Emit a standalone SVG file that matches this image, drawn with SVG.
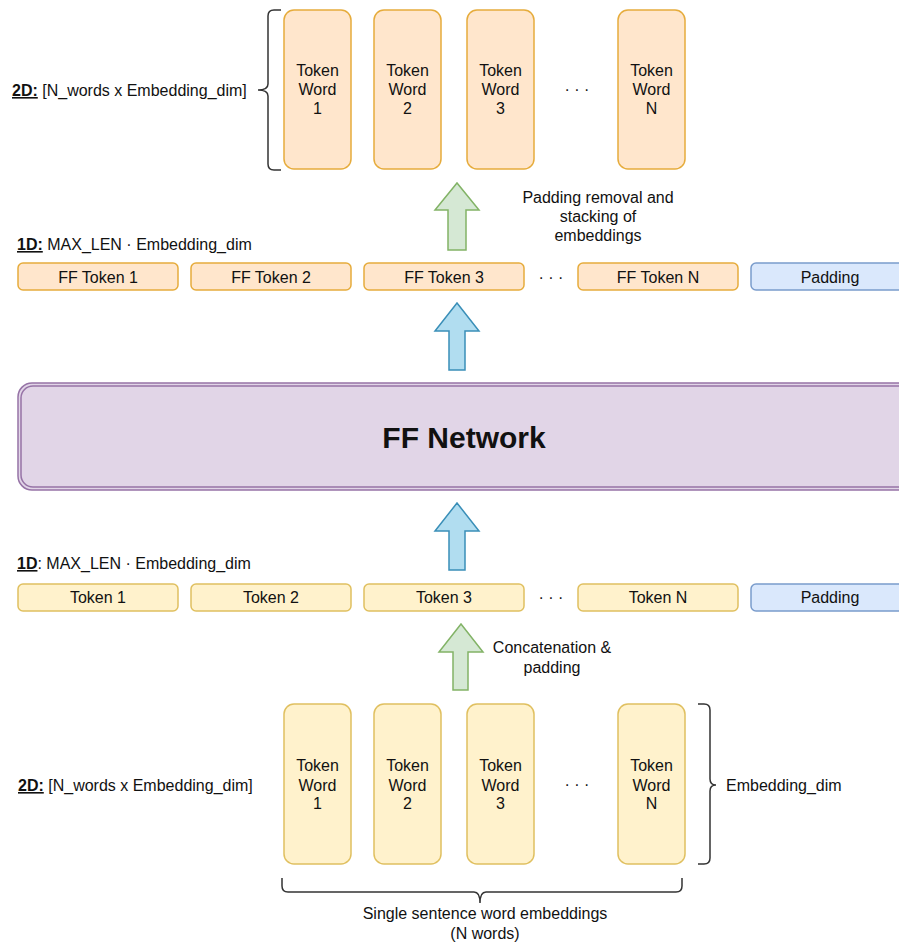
<svg xmlns="http://www.w3.org/2000/svg" width="899" height="944" viewBox="0 0 899 944">
<style>
text{font-family:"Liberation Sans",Arial,sans-serif;font-size:16px;fill:#111;}
.c{text-anchor:middle;}
.tw{fill:#ffe6cc;stroke:#e6ac3c;stroke-width:1.5;}
.bw{fill:#fff2cc;stroke:#e0c060;stroke-width:1.5;}
.pad{fill:#dae8fc;stroke:#7a9ccc;stroke-width:1.5;}
.ga{fill:#d5e8d4;stroke:#82b366;stroke-width:1.5;}
.ba{fill:#b1ddf0;stroke:#3a8fb8;stroke-width:1.5;}
.br{fill:none;stroke:#333;stroke-width:1.5;}
.b{font-weight:bold;text-decoration:underline;}
</style>
<g id="connectors">
<path class="ga" d="M448,250 V210 H435 L457,183 L479,210 H466 V250 Z"/>
<path class="ba" d="M449,370 V331 H435 L457,303 L479,331 H465 V370 Z"/>
<path class="ba" d="M449,570 V531 H435 L457,503 L479,531 H465 V570 Z"/>
<path class="ga" d="M453,690 V652 H439 L461,624 L483,652 H468 V690 Z"/>
</g>
<g id="top-brace">
<path class="br" d="M281,10 H274 Q268,10 268,16 V84 Q268,90 258,90 Q268,90 268,96 V164 Q268,170 274,170 H281"/>
<text x="12" y="96"><tspan class="b">2D:</tspan> [N_words x Embedding_dim]</text>
</g>
<g id="top-word-1"><rect class="tw" x="284" y="10" width="67" height="159" rx="10"/><text class="c" x="317.5" y="76">Token</text><text class="c" x="317.5" y="95">Word</text><text class="c" x="317.5" y="114">1</text></g>
<g id="top-word-2"><rect class="tw" x="374" y="10" width="67" height="159" rx="10"/><text class="c" x="407.5" y="76">Token</text><text class="c" x="407.5" y="95">Word</text><text class="c" x="407.5" y="114">2</text></g>
<g id="top-word-3"><rect class="tw" x="467" y="10" width="67" height="159" rx="10"/><text class="c" x="500.5" y="76">Token</text><text class="c" x="500.5" y="95">Word</text><text class="c" x="500.5" y="114">3</text></g>
<g id="top-dots"><text class="c" x="577" y="95">· · ·</text></g>
<g id="top-word-n"><rect class="tw" x="618" y="10" width="67" height="159" rx="10"/><text class="c" x="651.5" y="76">Token</text><text class="c" x="651.5" y="95">Word</text><text class="c" x="651.5" y="114">N</text></g>
<g id="label-padding-removal">
<text class="c" x="598" y="203">Padding removal and</text>
<text class="c" x="598" y="222">stacking of</text>
<text class="c" x="598" y="241">embeddings</text>
</g>
<g id="label-1d-top"><text x="17" y="250"><tspan class="b">1D:</tspan> MAX_LEN · Embedding_dim</text></g>
<g id="ff-token-1"><rect class="tw" x="18" y="263" width="160" height="27" rx="5"/><text class="c" x="98" y="283">FF Token 1</text></g>
<g id="ff-token-2"><rect class="tw" x="191" y="263" width="160" height="27" rx="5"/><text class="c" x="271" y="283">FF Token 2</text></g>
<g id="ff-token-3"><rect class="tw" x="364" y="263" width="160" height="27" rx="5"/><text class="c" x="444" y="283">FF Token 3</text></g>
<g id="ff-dots"><text class="c" x="551" y="283">· · ·</text></g>
<g id="ff-token-n"><rect class="tw" x="578" y="263" width="160" height="27" rx="5"/><text class="c" x="658" y="283">FF Token N</text></g>
<g id="ff-padding"><rect class="pad" x="751" y="263" width="160" height="27" rx="5"/><text class="c" x="830" y="283">Padding</text></g>
<g id="ff-network">
<rect x="18" y="383" width="895" height="107" rx="14" fill="#e1d5e7" stroke="#9673a6" stroke-width="1.5"/>
<rect x="21" y="386" width="889" height="101" rx="12" fill="none" stroke="#9673a6" stroke-width="1.5"/>
<text class="c" x="464" y="448" style="font-size:30px;font-weight:bold">FF Network</text>
</g>
<g id="label-1d-bottom"><text x="17" y="569"><tspan class="b">1D</tspan>: MAX_LEN · Embedding_dim</text></g>
<g id="token-1"><rect class="bw" x="18" y="584" width="160" height="27" rx="5"/><text class="c" x="98" y="603">Token 1</text></g>
<g id="token-2"><rect class="bw" x="191" y="584" width="160" height="27" rx="5"/><text class="c" x="271" y="603">Token 2</text></g>
<g id="token-3"><rect class="bw" x="364" y="584" width="160" height="27" rx="5"/><text class="c" x="444" y="603">Token 3</text></g>
<g id="token-dots"><text class="c" x="551" y="603">· · ·</text></g>
<g id="token-n"><rect class="bw" x="578" y="584" width="160" height="27" rx="5"/><text class="c" x="658" y="603">Token N</text></g>
<g id="token-padding"><rect class="pad" x="751" y="584" width="160" height="27" rx="5"/><text class="c" x="830" y="603">Padding</text></g>
<g id="label-concat">
<text class="c" x="552" y="653">Concatenation &amp;</text>
<text class="c" x="552" y="673">padding</text>
</g>
<g id="label-2d-bottom"><text x="18" y="791"><tspan class="b">2D:</tspan> [N_words x Embedding_dim]</text></g>
<g id="bottom-word-1"><rect class="bw" x="284" y="704" width="67" height="160" rx="10"/><text class="c" x="317.5" y="771">Token</text><text class="c" x="317.5" y="791">Word</text><text class="c" x="317.5" y="809">1</text></g>
<g id="bottom-word-2"><rect class="bw" x="374" y="704" width="67" height="160" rx="10"/><text class="c" x="407.5" y="771">Token</text><text class="c" x="407.5" y="791">Word</text><text class="c" x="407.5" y="809">2</text></g>
<g id="bottom-word-3"><rect class="bw" x="467" y="704" width="67" height="160" rx="10"/><text class="c" x="500.5" y="771">Token</text><text class="c" x="500.5" y="791">Word</text><text class="c" x="500.5" y="809">3</text></g>
<g id="bottom-dots"><text class="c" x="577" y="790">· · ·</text></g>
<g id="bottom-word-n"><rect class="bw" x="618" y="704" width="67" height="160" rx="10"/><text class="c" x="651.5" y="771">Token</text><text class="c" x="651.5" y="791">Word</text><text class="c" x="651.5" y="809">N</text></g>
<g id="right-brace">
<path class="br" d="M698,704 H704 Q710,704 710,710 V779 Q710,785 716,785 Q710,785 710,791 V858 Q710,864 704,864 H698"/>
<text x="726" y="791">Embedding_dim</text>
</g>
<g id="bottom-brace">
<path class="br" d="M282,878 V886 Q282,892 288,892 H474 Q480,892 480,903 Q480,892 486,892 H676 Q682,892 682,886 V878"/>
<text class="c" x="485" y="919">Single sentence word embeddings</text>
<text class="c" x="485" y="939">(N words)</text>
</g>
</svg>
